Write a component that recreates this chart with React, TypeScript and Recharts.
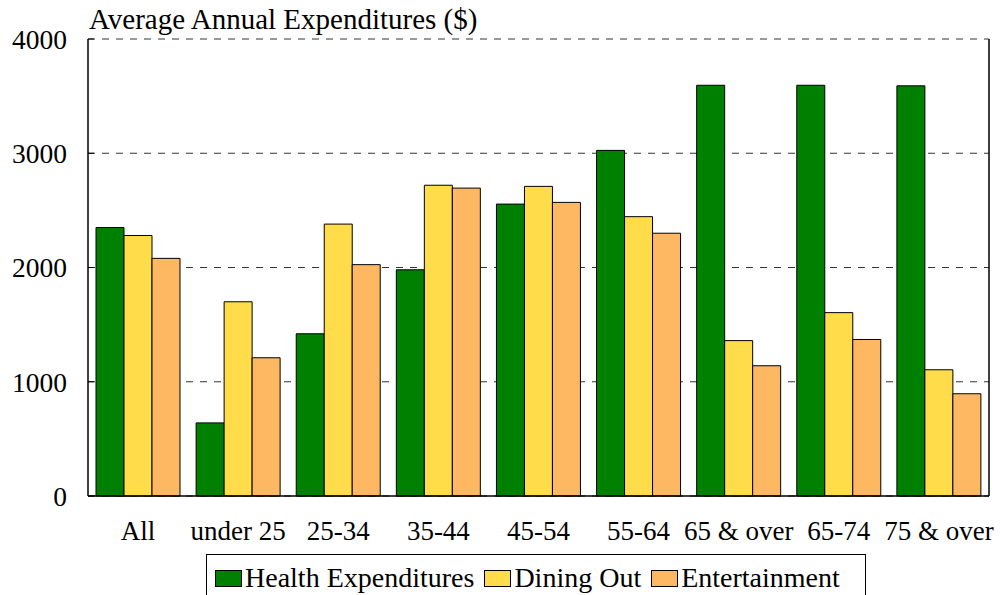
import {
  BarChart,
  Bar,
  XAxis,
  YAxis,
  CartesianGrid,
  Legend,
  ReferenceArea,
} from "recharts";

const AGE_GROUPS = [
  "All",
  "under 25",
  "25-34",
  "35-44",
  "45-54",
  "55-64",
  "65 & over",
  "65-74",
  "75 & over",
];
const HEALTH = [2350, 640, 1420, 1980, 2555, 3025, 3595, 3595, 3590];
const DINING = [2280, 1700, 2380, 2720, 2710, 2445, 1360, 1605, 1105];
const ENTERTAINMENT = [2080, 1210, 2025, 2695, 2570, 2300, 1140, 1370, 895];
const Y_TICKS = [0, 1000, 2000, 3000, 4000];

const SERIES = [
  { key: "health", name: "Health Expenditures", color: "#008000" },
  { key: "dining", name: "Dining Out", color: "#FFDD4A" },
  { key: "entertainment", name: "Entertainment", color: "#FFB862" },
];

const data = AGE_GROUPS.map((group, i) => ({
  group,
  health: HEALTH[i],
  dining: DINING[i],
  entertainment: ENTERTAINMENT[i],
}));

const FONT = "'Liberation Serif', 'Times New Roman', serif";

const CHART_W = 1000;
const CHART_H = 595;
const MARGIN = { top: 39, right: 11, bottom: 0, left: 0 };
const Y_AXIS_WIDTH = 88;
const X_AXIS_HEIGHT = 58;
const LEGEND_HEIGHT = 41;
const PLOT_W = CHART_W - MARGIN.right - MARGIN.left - Y_AXIS_WIDTH;
const PLOT_H = CHART_H - MARGIN.top - X_AXIS_HEIGHT - LEGEND_HEIGHT;

function LegendBox() {
  return (
    <div
      style={{
        display: "flex",
        alignItems: "center",
        border: "1px solid #000",
        height: 44,
        boxSizing: "border-box",
        padding: "4px 0 0 8px",
        fontFamily: FONT,
        fontSize: 28,
        lineHeight: "30px",
        color: "#000",
        background: "#fff",
        width: 660,
      }}
    >
      {SERIES.map((s) => (
        <span
          key={s.key}
          style={{ display: "flex", alignItems: "center", marginRight: 10 }}
        >
          <span
            style={{
              display: "inline-block",
              width: 25,
              height: 15,
              background: s.color,
              border: "1px solid #000",
              marginRight: 3,
            }}
          />
          {s.name}
        </span>
      ))}
    </div>
  );
}

export default function App() {
  return (
    <div
      style={{
        position: "fixed",
        left: 0,
        top: 0,
        width: CHART_W,
        height: CHART_H,
        background: "#fff",
        fontFamily: FONT,
        overflow: "hidden",
      }}
    >
      <div
        style={{
          position: "absolute",
          left: 89,
          top: 2,
          fontSize: 29,
          lineHeight: "34px",
          color: "#000",
        }}
      >
        Average Annual Expenditures ($)
      </div>
      <BarChart
        width={CHART_W}
        height={CHART_H}
        data={data}
        margin={MARGIN}
        barCategoryGap={8}
        barGap={0}
      >
        <CartesianGrid
          horizontal
          vertical={false}
          stroke="#333"
          strokeDasharray="7 7"
        />
        <XAxis
          dataKey="group"
          height={X_AXIS_HEIGHT}
          tickLine={false}
          axisLine={{ stroke: "#000", strokeWidth: 1.5 }}
          tick={{ fontSize: 27, fill: "#000", fontFamily: FONT }}
          tickMargin={19}
          interval={0}
        />
        <YAxis
          width={Y_AXIS_WIDTH}
          domain={[0, 4000]}
          ticks={Y_TICKS}
          tickSize={-6}
          tickLine={{ stroke: "#000" }}
          axisLine={{ stroke: "#000", strokeWidth: 1.5 }}
          tick={{ fontSize: 27.5, fill: "#000", fontFamily: FONT }}
          tickMargin={27}
        />
        {SERIES.map((s) => (
          <Bar
            key={s.key}
            dataKey={s.key}
            name={s.name}
            fill={s.color}
            stroke="#000"
            strokeWidth={1}
            isAnimationActive={false}
          />
        ))}
        {/* plot frame: dash pattern keeps only the right-hand side solid */}
        <ReferenceArea
          y1={0}
          y2={4000}
          fill="none"
          fillOpacity={0}
          stroke="#000"
          strokeWidth={1.5}
          strokeOpacity={1}
          strokeDasharray={`0 ${PLOT_W} ${PLOT_H} ${PLOT_W + PLOT_H + 10}`}
          ifOverflow="visible"
        />
        <Legend
          verticalAlign="bottom"
          content={() => <LegendBox />}
          wrapperStyle={{ left: 206, width: 660, height: LEGEND_HEIGHT, bottom: 0, top: 554 }}
        />
      </BarChart>
    </div>
  );
}
